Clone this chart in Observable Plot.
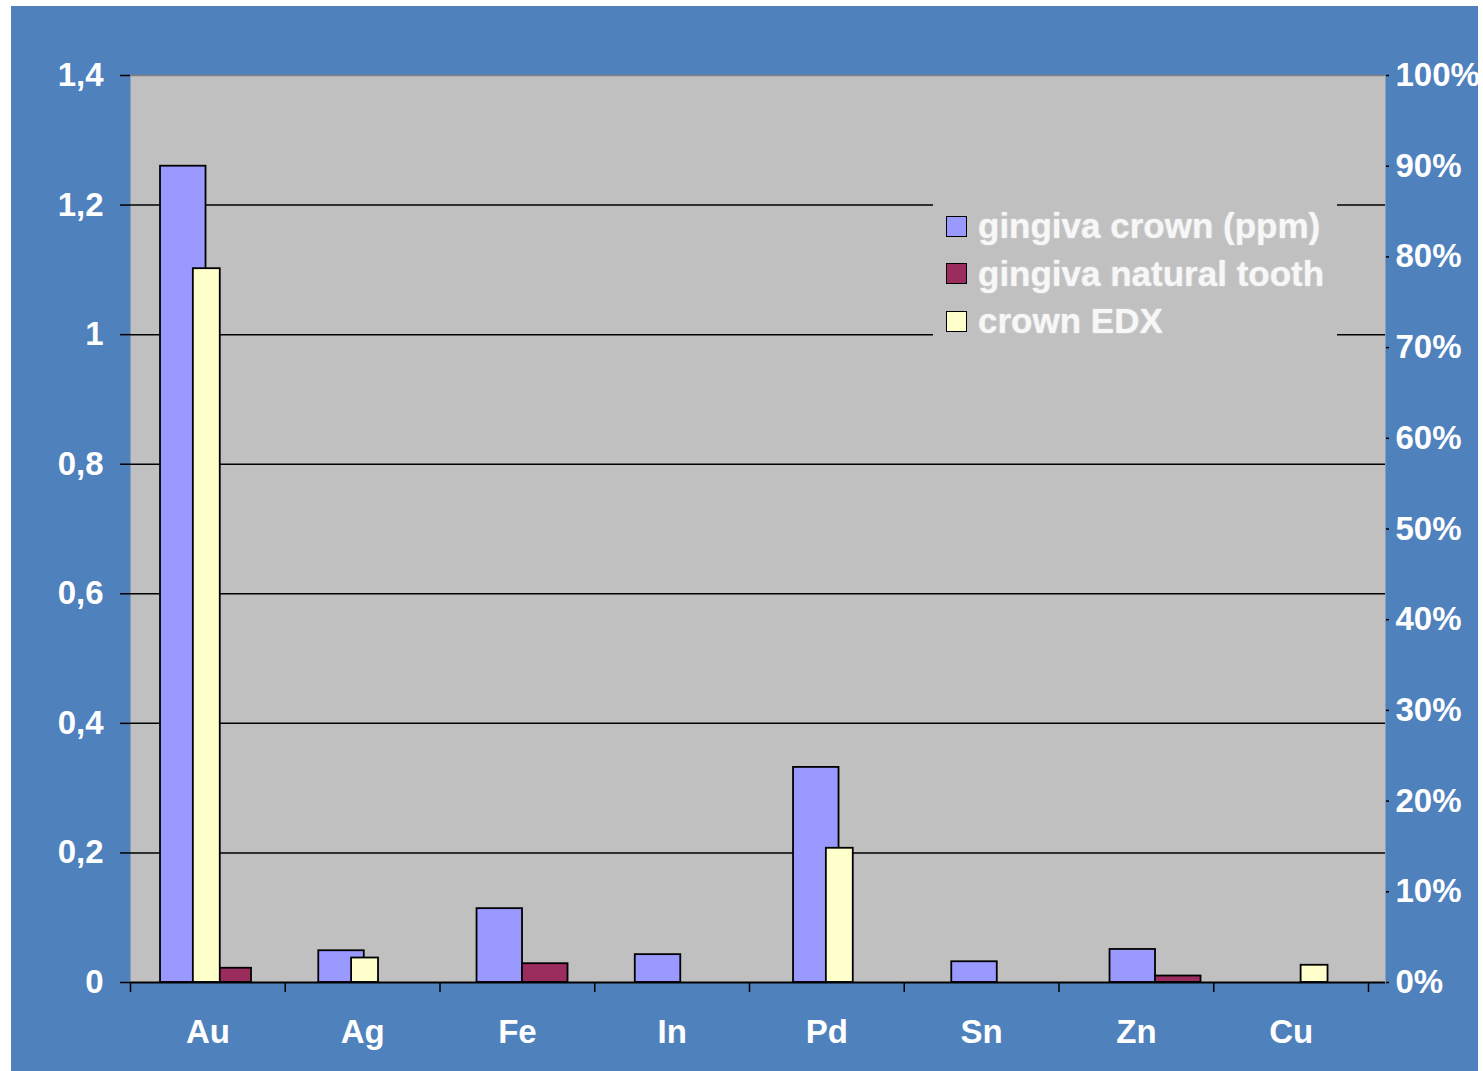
<!DOCTYPE html>
<html>
<head>
<meta charset="utf-8">
<script src="https://cdn.jsdelivr.net/npm/d3@7"></script>
<script src="https://cdn.jsdelivr.net/npm/@observablehq/plot@0.6"></script>
<style>
  html, body { margin: 0; padding: 0; background: #fff; }
  #wrap { position: relative; width: 1483px; height: 1071px; overflow: hidden; }
  #panel { position: absolute; left: 11px; top: 6px; width: 1467px; height: 1065px; background: #4f81bd; }
  #chart { position: absolute; left: 0; top: 0; }
  #legend {
    position: absolute; left: 933px; top: 190px; width: 404px; height: 155px;
    background: #c0c0c0;
    font-family: "Liberation Sans", Arial, sans-serif; font-weight: bold; font-size: 35px;
    color: #f7f7f7; text-shadow: 0 0 2px rgba(255,255,255,0.55);
  }
  .item { position: absolute; left: 13px; height: 48px; display: flex; align-items: center; white-space: nowrap; }
  .sw { width: 19px; height: 19px; border: 1.5px solid #000; margin-right: 11px; flex: none; }
</style>
</head>
<body>
<div id="wrap">
  <div id="panel"></div>
  <div id="chart"></div>
  <div id="legend"></div>
</div>
<script>
// Elements measured
const elements = ["Au", "Ag", "Fe", "In", "Pd", "Sn", "Zn", "Cu"];

// Left axis series (ppm)
const gingivaCrown   = [1.26, 0.049, 0.114, 0.043, 0.332, 0.032, 0.051, 0];
const gingivaNatural = [0.022, 0, 0.029, 0, 0, 0, 0.010, 0];

// Right axis series (percent)
const crownEDX = [78.7, 2.7, 0, 0, 14.8, 0, 0, 1.9];

// Axis ticks
const leftTicks  = [0, 0.2, 0.4, 0.6, 0.8, 1.0, 1.2, 1.4];
const rightTicks = [0, 10, 20, 30, 40, 50, 60, 70, 80, 90, 100];

const seriesNames  = ["gingiva crown (ppm)", "gingiva natural tooth", "crown EDX"];
const seriesColors = ["#9999ff", "#9b2d5e", "#ffffcc"];

const leftMax = leftTicks[leftTicks.length - 1];
const pctToLeft = p => p / 100 * leftMax;

// The bars sit on a secondary category axis that is slightly wider than
// the labelled one; express its slots in primary category units.
const barSlots = d3.scaleLinear().domain([0, elements.length]).range([-0.0233, 8.1577]);

const rows = [];
elements.forEach((el, i) => {
  rows.push({el, series: seriesNames[0], value: gingivaCrown[i],
             x1: barSlots(i + 0.2125), x2: barSlots(i + 0.5)});
  rows.push({el, series: seriesNames[1], value: gingivaNatural[i],
             x1: barSlots(i + 0.5), x2: barSlots(i + 0.7875)});
});
const edxRows = elements.map((el, i) => ({
  el, series: seriesNames[2], value: crownEDX[i], y: pctToLeft(crownEDX[i]),
  x1: barSlots(i + 0.42), x2: barSlots(i + 0.59)
}));

const fmtLeft = d => String(+d.toFixed(1)).replace(".", ",");
const fmtRight = d => Math.round(d / leftMax * 100) + "%";
const font = "'Liberation Sans', Arial, sans-serif";

const chart = Plot.plot({
  width: 1483,
  height: 1071,
  marginLeft: 130,
  marginRight: 98,
  marginTop: 75,
  marginBottom: 89,
  style: {background: "transparent", fontFamily: font, overflow: "visible"},
  x: {domain: [0, elements.length], range: [130, 1368]},
  y: {domain: [0, leftMax]},
  color: {domain: seriesNames, range: seriesColors},
  marks: [
    Plot.frame({fill: "#c0c0c0", stroke: "none"}),
    Plot.ruleY([leftMax], {stroke: "#808080", strokeWidth: 1.5}),
    Plot.ruleY(leftTicks.filter(t => t > 0 && t < leftMax), {stroke: "#000", strokeWidth: 1.5}),
    // primary series
    Plot.rect(rows, {x1: "x1", x2: "x2", y1: 0, y2: "value", fill: "series",
                     stroke: "#000", strokeWidth: 1.8}),
    // secondary series (percent)
    Plot.rect(edxRows, {x1: "x1", x2: "x2", y1: 0, y2: "y", fill: "series",
                        stroke: "#000", strokeWidth: 1.8}),
    Plot.ruleY([0], {stroke: "#000", strokeWidth: 2}),
    // left axis
    Plot.axisY(leftTicks, {tickSize: 10, stroke: "#000", strokeWidth: 1.5, fill: "none", label: null}),
    Plot.axisY(leftTicks, {tickSize: 10, tickPadding: 17, tickFormat: fmtLeft, stroke: "none",
                           fill: "#fff", fontSize: 33, fontWeight: "bold", label: null}),
    // right axis
    Plot.axisY(rightTicks.map(pctToLeft), {anchor: "right", tickSize: 3, stroke: "#000",
                                           strokeWidth: 1.5, fill: "none", label: null}),
    Plot.axisY(rightTicks.map(pctToLeft), {anchor: "right", tickSize: 3, tickPadding: 7,
                                           tickFormat: fmtRight, stroke: "none", fill: "#fff",
                                           fontSize: 33, fontWeight: "bold", label: null}),
    // category axis
    Plot.axisX(d3.range(0, elements.length + 1), {tickSize: 10, stroke: "#000", strokeWidth: 1.5,
                                                  fill: "none", label: null}),
    Plot.axisX(elements.map((e, i) => i + 0.5), {tickSize: 0, tickPadding: 37,
                                                 tickFormat: d => elements[Math.floor(d)],
                                                 stroke: "none", fill: "#fff", fontSize: 33,
                                                 fontWeight: "bold", label: null})
  ]
});
document.getElementById("chart").appendChild(chart);

// Legend inside the plot area
const legend = document.getElementById("legend");
seriesNames.forEach((name, i) => {
  const item = document.createElement("div");
  item.className = "item";
  item.style.top = (12 + i * 47.5) + "px";
  const sw = document.createElement("span");
  sw.className = "sw";
  sw.style.background = seriesColors[i];
  const label = document.createElement("span");
  label.textContent = name;
  item.appendChild(sw);
  item.appendChild(label);
  legend.appendChild(item);
});
</script>
</body>
</html>
